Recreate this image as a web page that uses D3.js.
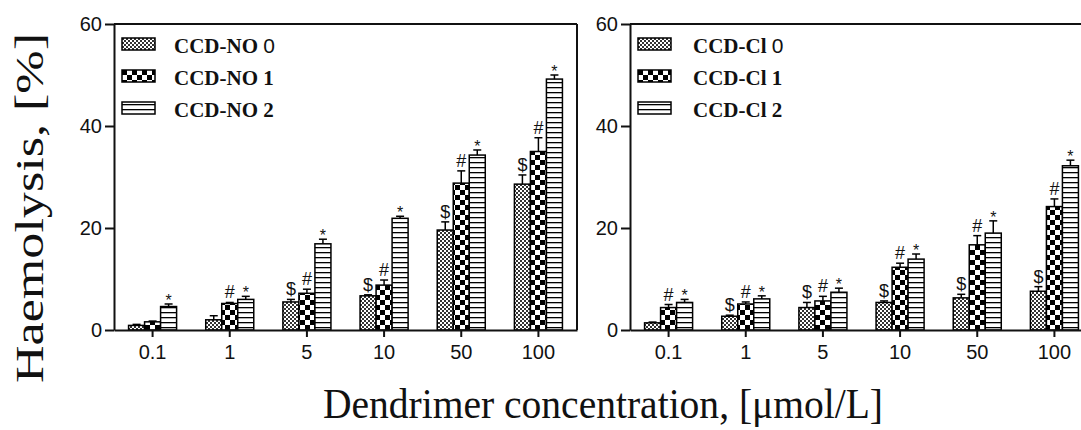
<!DOCTYPE html>
<html>
<head>
<meta charset="utf-8">
<script src="https://cdn.jsdelivr.net/npm/d3@7"></script>
<style>
  body { margin: 0; background: #fff; }
  svg { display: block; }
</style>
</head>
<body>
<div id="chart"></div>
<script>
// Data
const concentrations = ["0.1", "1", "5", "10", "50", "100"];
const yTicks = [0, 20, 40, 60];

const noNames = ["CCD-NO 0", "CCD-NO 1", "CCD-NO 2"];
const no0 = [0.9, 2.0, 5.5, 6.7, 19.6, 28.6];
const no1 = [1.6, 5.2, 7.2, 8.8, 28.8, 35.0];
const no2 = [4.6, 6.0, 16.9, 21.9, 34.3, 49.2];
const no0Err = [0.2, 0.8, 0.5, 0.2, 1.6, 1.8];
const no1Err = [0.15, 0.2, 0.8, 1.0, 2.4, 2.7];
const no2Err = [0.5, 0.6, 0.9, 0.4, 1.0, 0.8];
const no0Marks = ["", "", "$", "$", "$", "$"];
const no1Marks = ["", "#", "#", "#", "#", "#"];
const no2Marks = ["*", "*", "*", "*", "*", "*"];

const clNames = ["CCD-Cl 0", "CCD-Cl 1", "CCD-Cl 2"];
const cl0 = [1.4, 2.7, 4.4, 5.4, 6.3, 7.6];
const cl1 = [4.4, 5.1, 5.7, 12.3, 16.7, 24.2];
const cl2 = [5.4, 6.1, 7.4, 13.9, 19.0, 32.2];
const cl0Err = [0.15, 0.2, 1.0, 0.3, 0.7, 0.9];
const cl1Err = [0.6, 0.4, 0.9, 0.8, 1.8, 1.5];
const cl2Err = [0.6, 0.6, 0.8, 1.0, 2.4, 1.1];
const cl0Marks = ["", "$", "$", "$", "$", "$"];
const cl1Marks = ["#", "#", "#", "#", "#", "#"];
const cl2Marks = ["*", "*", "*", "*", "*", "*"];

const width = 1081;
const height = 430;
const sans = "'Liberation Sans', Arial, sans-serif";
const serif = "'Liberation Serif', 'Times New Roman', serif";

const svg = d3.select("#chart").append("svg")
  .attr("width", width)
  .attr("height", height);

// Fill patterns
const defs = svg.append("defs");

const pat0 = defs.append("pattern").attr("id", "pat0")
  .attr("patternUnits", "userSpaceOnUse").attr("width", 4).attr("height", 4);
pat0.append("rect").attr("width", 4).attr("height", 4).attr("fill", "#fff");
pat0.append("rect").attr("width", 2).attr("height", 2).attr("fill", "#333");
pat0.append("rect").attr("x", 2).attr("y", 2).attr("width", 2).attr("height", 2).attr("fill", "#333");

const pat1 = defs.append("pattern").attr("id", "pat1")
  .attr("patternUnits", "userSpaceOnUse").attr("width", 10).attr("height", 10);
pat1.append("rect").attr("width", 10).attr("height", 10).attr("fill", "#fff");
pat1.append("rect").attr("width", 5).attr("height", 5).attr("fill", "#000");
pat1.append("rect").attr("x", 5).attr("y", 5).attr("width", 5).attr("height", 5).attr("fill", "#000");

const pat2 = defs.append("pattern").attr("id", "pat2")
  .attr("patternUnits", "userSpaceOnUse").attr("width", 5).attr("height", 5);
pat2.append("rect").attr("width", 5).attr("height", 5).attr("fill", "#fff");
pat2.append("rect").attr("y", 2).attr("width", 5).attr("height", 1.3).attr("fill", "#000");

const fills = ["url(#pat0)", "url(#pat1)", "url(#pat2)"];

function drawPanel(opts) {
  const g = svg.append("g");

  const x = d3.scaleBand()
    .domain(concentrations)
    .range([opts.left, opts.right])
    .padding(0);

  const xInner = d3.scaleBand()
    .domain([0, 1, 2])
    .range([0, x.bandwidth()])
    .paddingInner(0)
    .paddingOuter(0.91);

  const y = d3.scaleLinear()
    .domain([0, 60])
    .range([330, 24]);

  // Frame (top and right edges)
  g.append("line")
    .attr("x1", opts.left).attr("x2", opts.right)
    .attr("y1", y(60)).attr("y2", y(60))
    .attr("stroke", "#111").attr("stroke-width", 2);
  g.append("line")
    .attr("x1", opts.right).attr("x2", opts.right)
    .attr("y1", y(60)).attr("y2", y(0))
    .attr("stroke", "#111").attr("stroke-width", 2);

  // Bars, error bars and significance marks
  opts.series.forEach((values, s) => {
    const rows = concentrations.map((c, i) => ({
      c: c, v: values[i], e: opts.errors[s][i], m: opts.marks[s][i]
    }));
    const sg = g.append("g");

    sg.selectAll("rect")
      .data(rows)
      .enter()
      .append("rect")
      .attr("x", (d) => x(d.c) + xInner(s))
      .attr("y", (d) => y(d.v))
      .attr("width", xInner.bandwidth())
      .attr("height", (d) => y(0) - y(d.v))
      .attr("fill", fills[s])
      .attr("stroke", "#000")
      .attr("stroke-width", 1.5);

    const cx = (d) => x(d.c) + xInner(s) + xInner.bandwidth() / 2;

    sg.selectAll(".err")
      .data(rows)
      .enter()
      .append("line")
      .attr("class", "err")
      .attr("x1", cx).attr("x2", cx)
      .attr("y1", (d) => y(d.v)).attr("y2", (d) => y(d.v + d.e))
      .attr("stroke", "#000").attr("stroke-width", 1.5);

    sg.selectAll(".cap")
      .data(rows)
      .enter()
      .append("line")
      .attr("class", "cap")
      .attr("x1", (d) => cx(d) - 4).attr("x2", (d) => cx(d) + 4)
      .attr("y1", (d) => y(d.v + d.e)).attr("y2", (d) => y(d.v + d.e))
      .attr("stroke", "#000").attr("stroke-width", 1.5);

    sg.selectAll(".mark")
      .data(rows.filter((d) => d.m !== ""))
      .enter()
      .append("text")
      .attr("class", "mark")
      .attr("x", cx)
      .attr("y", (d) => y(d.v + d.e) + (d.m === "*" ? 2 : -4))
      .attr("text-anchor", "middle")
      .style("font-family", sans)
      .style("font-size", (d) => (d.m === "*" ? "16px" : "18px"))
      .style("fill", "#111")
      .text((d) => d.m);
  });

  // Axes
  const yAxis = d3.axisLeft(y)
    .tickValues(yTicks)
    .tickSize(9)
    .tickSizeOuter(0)
    .tickPadding(3);

  const xAxis = d3.axisBottom(x)
    .tickSize(7)
    .tickSizeOuter(0)
    .tickPadding(8);

  const ya = g.append("g")
    .attr("transform", `translate(${opts.left},0)`)
    .call(yAxis);

  const xa = g.append("g")
    .attr("transform", `translate(0,${y(0)})`)
    .call(xAxis);

  [ya, xa].forEach((a) => {
    a.select(".domain").attr("stroke", "#111").attr("stroke-width", 2);
    a.selectAll(".tick line").attr("stroke", "#111").attr("stroke-width", 2);
    a.selectAll("text")
      .style("font-family", sans)
      .style("font-size", "20px")
      .attr("fill", "#111");
  });

  // Legend
  const legend = g.append("g")
    .attr("transform", `translate(${opts.left + 8}, 38)`);

  const items = legend.selectAll(".legend-item")
    .data(opts.names)
    .enter()
    .append("g")
    .attr("class", "legend-item")
    .attr("transform", (d, i) => `translate(0, ${i * 32})`);

  items.append("rect")
    .attr("width", 33)
    .attr("height", 12)
    .attr("fill", (d, i) => fills[i])
    .attr("stroke", "#000")
    .attr("stroke-width", 1.5);

  const labels = items.append("text")
    .attr("x", opts.legendText)
    .attr("y", 15)
    .style("font-family", serif)
    .style("font-size", "21px")
    .style("font-weight", "bold")
    .style("fill", "#111");

  labels.append("tspan")
    .text((d) => d.slice(0, d.lastIndexOf(" ") + 1));
  labels.append("tspan")
    .style("font-family", (d) => (d.endsWith("0") ? sans : serif))
    .style("font-weight", (d) => (d.endsWith("0") ? "normal" : "bold"))
    .text((d) => d.slice(d.lastIndexOf(" ") + 1));
}

drawPanel({
  left: 114, right: 577, legendText: 52,
  names: noNames,
  series: [no0, no1, no2],
  errors: [no0Err, no1Err, no2Err],
  marks: [no0Marks, no1Marks, no2Marks]
});

drawPanel({
  left: 630, right: 1093, legendText: 55,
  names: clNames,
  series: [cl0, cl1, cl2],
  errors: [cl0Err, cl1Err, cl2Err],
  marks: [cl0Marks, cl1Marks, cl2Marks]
});

// Axis titles
svg.append("text")
  .attr("transform", "translate(43,208) rotate(-90)")
  .attr("text-anchor", "middle")
  .attr("textLength", 350)
  .attr("lengthAdjust", "spacingAndGlyphs")
  .style("font-family", serif)
  .style("font-size", "40px")
  .style("fill", "#111")
  .text("Haemolysis, [%]");

svg.append("text")
  .attr("x", 603)
  .attr("y", 418)
  .attr("text-anchor", "middle")
  .attr("textLength", 560)
  .attr("lengthAdjust", "spacingAndGlyphs")
  .style("font-family", serif)
  .style("font-size", "42px")
  .style("fill", "#111")
  .text("Dendrimer concentration, [μmol/L]");
</script>
</body>
</html>
